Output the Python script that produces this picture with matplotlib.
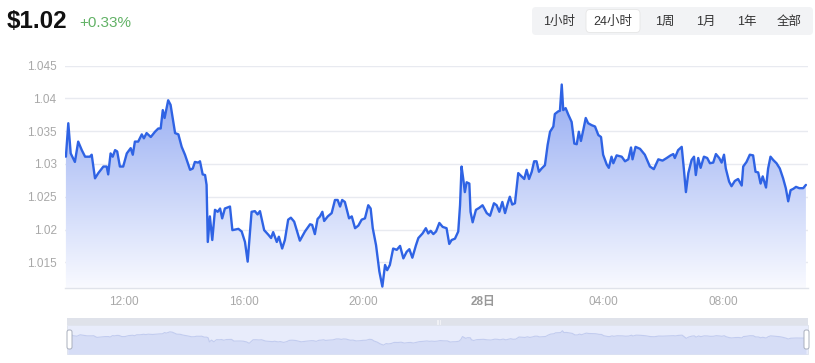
import matplotlib
matplotlib.use('Agg')
import matplotlib.pyplot as plt
import numpy as np
from matplotlib.patches import FancyBboxPatch, Polygon, Rectangle

plt.rcParams['font.family'] = ['Liberation Sans', 'Noto Sans CJK SC', 'DejaVu Sans']

# ---- data (hours since 00:00 of day 27; 24 = 28日 00:00) ----
hours = [10.08, 10.16, 10.24, 10.38, 10.49, 10.61, 10.72, 10.88, 10.94, 11.05,
         11.16, 11.33, 11.44, 11.49, 11.57, 11.64, 11.72, 11.79, 11.88, 11.99,
         12.11, 12.24, 12.31, 12.38, 12.49, 12.61, 12.68, 12.77, 12.91, 13.05,
         13.16, 13.24, 13.31, 13.37, 13.49, 13.57, 13.72, 13.83, 13.94, 14.05,
         14.22, 14.31, 14.38, 14.49, 14.55, 14.64, 14.72, 14.77, 14.81, 14.88,
         14.96, 15.05, 15.14, 15.22, 15.29, 15.38, 15.55, 15.63, 15.83, 15.94,
         16.05, 16.14, 16.27, 16.38, 16.47, 16.55, 16.69, 16.83, 16.92, 16.99,
         17.11, 17.18, 17.29, 17.38, 17.49, 17.58, 17.69, 17.88, 18.05, 18.22,
         18.29, 18.38, 18.47, 18.55, 18.63, 18.69, 18.81, 18.94, 19.05, 19.14,
         19.22, 19.29, 19.38, 19.52, 19.61, 19.72, 19.83, 19.94, 20.05, 20.16,
         20.24, 20.31, 20.42, 20.53, 20.63, 20.72, 20.79, 20.88, 20.99, 21.11,
         21.22, 21.33, 21.44, 21.53, 21.63, 21.75, 21.83, 21.97, 22.08, 22.16,
         22.24, 22.33, 22.42, 22.53, 22.64, 22.77, 22.86, 22.94, 23.05, 23.16,
         23.22, 23.27, 23.33, 23.38, 23.44, 23.53, 23.57, 23.64, 23.75, 23.86,
         23.97, 24.11, 24.22, 24.35, 24.44, 24.53, 24.63, 24.72, 24.81, 24.88,
         24.96, 25.05, 25.16, 25.27, 25.36, 25.44, 25.52, 25.61, 25.69, 25.77,
         25.85, 25.94, 26.05, 26.14, 26.22, 26.33, 26.38, 26.49, 26.55, 26.61,
         26.66, 26.74, 26.83, 26.94, 27.03, 27.11, 27.18, 27.25, 27.33, 27.41,
         27.49, 27.61, 27.72, 27.83, 27.92, 27.99, 28.11, 28.18, 28.27, 28.33,
         28.44, 28.61, 28.72, 28.83, 28.92, 28.97, 29.07, 29.22, 29.38, 29.55,
         29.68, 29.83, 29.97, 30.11, 30.24, 30.33, 30.38, 30.49, 30.61, 30.68,
         30.75, 30.83, 30.94, 31.02, 31.08, 31.16, 31.24, 31.35, 31.46, 31.55,
         31.66, 31.75, 31.86, 31.94, 32.02, 32.08, 32.19, 32.27, 32.38, 32.49,
         32.61, 32.66, 32.77, 32.88, 32.99, 33.07, 33.16, 33.24, 33.31, 33.42,
         33.49, 33.57, 33.66, 33.77, 33.88, 33.99, 34.08, 34.16, 34.24, 34.33,
         34.42, 34.53, 34.66, 34.75]
prices = [1.0311, 1.0362, 1.0316, 1.0303, 1.0334, 1.0321, 1.0311, 1.0311, 1.0314, 1.0278,
          1.0286, 1.0296, 1.0296, 1.0284, 1.0316, 1.0311, 1.0321, 1.0319, 1.0296, 1.0296,
          1.0316, 1.0324, 1.0314, 1.0334, 1.0334, 1.0345, 1.0339, 1.0347, 1.0341, 1.0349,
          1.0354, 1.0354, 1.0382, 1.0370, 1.0397, 1.0390, 1.0347, 1.0345, 1.0326, 1.0314,
          1.0291, 1.0293, 1.0303, 1.0302, 1.0304, 1.0284, 1.0283, 1.0268, 1.0181, 1.0220,
          1.0184, 1.0230, 1.0227, 1.0232, 1.0217, 1.0232, 1.0235, 1.0199, 1.0201, 1.0197,
          1.0181, 1.0151, 1.0227, 1.0228, 1.0223, 1.0228, 1.0199, 1.0192, 1.0187, 1.0196,
          1.0181, 1.0189, 1.0171, 1.0184, 1.0215, 1.0218, 1.0212, 1.0183, 1.0197, 1.0208,
          1.0207, 1.0193, 1.0216, 1.0220, 1.0227, 1.0213, 1.0220, 1.0225, 1.0245, 1.0245,
          1.0235, 1.0245, 1.0242, 1.0217, 1.0220, 1.0202, 1.0206, 1.0215, 1.0217, 1.0237,
          1.0232, 1.0202, 1.0176, 1.0136, 1.0113, 1.0146, 1.0138, 1.0146, 1.0171, 1.0169,
          1.0175, 1.0156, 1.0166, 1.0170, 1.0157, 1.0176, 1.0187, 1.0194, 1.0202, 1.0194,
          1.0198, 1.0193, 1.0197, 1.0210, 1.0204, 1.0202, 1.0178, 1.0184, 1.0186, 1.0197,
          1.0237, 1.0296, 1.0276, 1.0257, 1.0272, 1.0270, 1.0227, 1.0211, 1.0230, 1.0233,
          1.0237, 1.0225, 1.0221, 1.0240, 1.0237, 1.0227, 1.0242, 1.0225, 1.0240, 1.0250,
          1.0238, 1.0240, 1.0286, 1.0281, 1.0277, 1.0291, 1.0277, 1.0288, 1.0304, 1.0304,
          1.0288, 1.0293, 1.0298, 1.0329, 1.0349, 1.0357, 1.0376, 1.0380, 1.0381, 1.0421,
          1.0382, 1.0385, 1.0375, 1.0364, 1.0331, 1.0330, 1.0349, 1.0335, 1.0352, 1.0370,
          1.0362, 1.0359, 1.0357, 1.0344, 1.0341, 1.0314, 1.0299, 1.0294, 1.0311, 1.0301,
          1.0313, 1.0311, 1.0304, 1.0307, 1.0325, 1.0307, 1.0326, 1.0323, 1.0314, 1.0296,
          1.0292, 1.0307, 1.0305, 1.0309, 1.0313, 1.0315, 1.0309, 1.0321, 1.0326, 1.0293,
          1.0257, 1.0286, 1.0306, 1.0311, 1.0283, 1.0309, 1.0294, 1.0311, 1.0309, 1.0301,
          1.0302, 1.0315, 1.0309, 1.0302, 1.0314, 1.0293, 1.0273, 1.0266, 1.0274, 1.0277,
          1.0267, 1.0296, 1.0303, 1.0314, 1.0313, 1.0288, 1.0287, 1.0270, 1.0281, 1.0264,
          1.0293, 1.0311, 1.0306, 1.0301, 1.0293, 1.0278, 1.0263, 1.0243, 1.0260, 1.0262,
          1.0265, 1.0263, 1.0263, 1.0268]

x_tick_hours = [12, 16, 20, 24, 28, 32]
x_tick_labels = ['12:00', '16:00', '20:00', '28日', '04:00', '08:00']
y_ticks = [1.015, 1.02, 1.025, 1.03, 1.035, 1.04, 1.045]
y_tick_labels = ['1.015', '1.02', '1.025', '1.03', '1.035', '1.04', '1.045']
range_buttons = ['1小时', '24小时', '1周', '1月', '1年', '全部']
selected_button = '24小时'
price_text = '$1.02'
change_text = '+0.33%'

W, H = 815, 363
fig = plt.figure(figsize=(W / 100, H / 100), dpi=100)
fig.patch.set_facecolor('white')


def fx(px):
    return px / W


def fy(py):
    return 1 - py / H


XMIN, XMAX = 10.05, 34.82
YMIN, YMAX = 1.01113, 1.045

# ---- overlay for header, buttons, slider frame ----
ov = fig.add_axes([0, 0, 1, 1])
ov.set_xlim(0, W)
ov.set_ylim(H, 0)
ov.axis('off')
ov.set_zorder(0)

ov.text(7, 22, price_text, fontsize=17.5, fontweight='bold', color='#111111',
        va='center', ha='left')
ov.text(79, 23, change_text, fontsize=11, color='#62b266', va='center', ha='left')

ov.add_patch(FancyBboxPatch((532, 7), 281, 28,
                            boxstyle='round,pad=0,rounding_size=4',
                            fc='#f2f3f5', ec='none'))
btn_x = [559, 613, 665, 706, 747, 789]
for lab, bx in zip(range_buttons, btn_x):
    if lab == selected_button:
        ov.add_patch(FancyBboxPatch((bx - 27, 9.5), 54, 23,
                                    boxstyle='round,pad=0,rounding_size=4',
                                    fc='white', ec='#e6e6e6', lw=0.6))
    ov.text(bx, 21.5, lab, fontsize=9, color='#333333', ha='center', va='center')

# slider frame
ov.add_patch(Rectangle((67, 318), 741, 7, fc='#dfe2ea', ec='none'))
ov.add_patch(Rectangle((67, 325), 741, 29, fc='#e8ecfb', ec='#dde1ec', lw=0.6))
for dx in (-1.5, 0, 1.5):
    ov.plot([438 + dx, 438 + dx], [319.5, 323.5], color='#f4f5f8', lw=0.6)

# ---- main chart ----
ax = fig.add_axes([fx(65), fy(287.7), fx(808) - fx(65), fy(65.5) - fy(287.7)])
ax.set_zorder(2)
ax.set_xlim(XMIN, XMAX)
ax.set_ylim(YMIN, YMAX)
ax.set_facecolor('none')

ax.set_yticks(y_ticks)
ax.set_yticklabels(y_tick_labels)
ax.set_xticks(x_tick_hours)
ax.set_xticklabels(x_tick_labels)
ax.tick_params(axis='both', length=0, colors='#a8a8a8', labelsize=8.5)
ax.tick_params(axis='y', pad=6)
ax.tick_params(axis='x', pad=6)
for lbl in ax.get_xticklabels():
    if lbl.get_text() == '28日':
        lbl.set_fontweight('bold')
        lbl.set_color('#999999')
ax.grid(axis='y', color='#e8eaf0', lw=1)
ax.set_axisbelow(True)
for s in ('top', 'right', 'left'):
    ax.spines[s].set_visible(False)
ax.spines['bottom'].set_color('#e0e3ea')
ax.spines['bottom'].set_linewidth(1)

# gradient area
g = np.linspace(0, 1, 256)[:, None]
top_c = np.array([0.58, 0.67, 0.95])
bot_c = np.array([0.975, 0.98, 1.0])
img = (top_c * (1 - g) + bot_c * g).reshape(256, 1, 3)
im = ax.imshow(img, extent=[XMIN, XMAX, YMIN, max(prices)], aspect='auto',
               origin='upper', zorder=1, interpolation='bilinear')
verts = [(hours[0], YMIN)] + list(zip(hours, prices)) + [(hours[-1], YMIN)]
clip = Polygon(verts, closed=True, transform=ax.transData, fc='none', ec='none')
ax.add_patch(clip)
im.set_clip_path(clip)
ax.set_xlim(XMIN, XMAX)
ax.set_ylim(YMIN, YMAX)

ax.plot(hours, prices, color='#2f63e4', lw=1.7, zorder=3,
        solid_joinstyle='round', solid_capstyle='round')

# ---- slider data shadow ----
sx = fig.add_axes([fx(67), fy(354), fx(808) - fx(67), fy(325) - fy(354)])
sx.set_zorder(1)
sx.set_facecolor('none')
sx.axis('off')
sx.set_xlim(XMIN, XMAX)
sx.set_ylim(0.9922, 1.0544)
sx.fill_between(hours, prices, 0.9922, color='#d6ddf6', lw=0)
sx.plot(hours, prices, color='#c2ccef', lw=0.8)

# handles (on top)
hov = fig.add_axes([0, 0, 1, 1])
hov.set_xlim(0, W)
hov.set_ylim(H, 0)
hov.axis('off')
hov.set_zorder(3)
for hx in (69.5, 806.5):
    hov.add_patch(FancyBboxPatch((hx - 2.5, 330), 5, 19,
                                 boxstyle='round,pad=0,rounding_size=2',
                                 fc='white', ec='#a9afbd', lw=0.7))

fig.savefig('out.png', dpi=100)
